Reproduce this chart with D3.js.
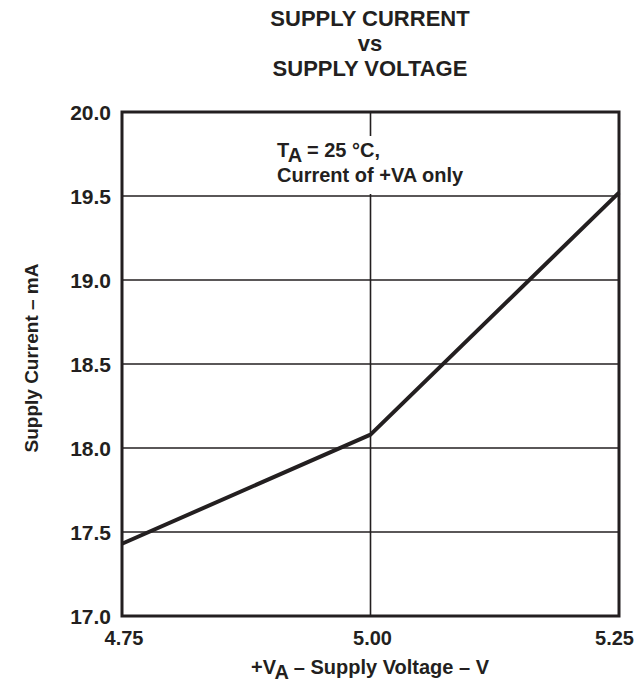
<!DOCTYPE html>
<meta charset="utf-8" />
<script src="https://cdn.jsdelivr.net/npm/d3@7"></script>
<html>
<head>
<style>
  body { margin: 0; background: #fff; }
  text { font-family: "Liberation Sans", Arial, sans-serif; font-weight: bold; fill: #231f20; }
</style>
</head>
<body>
<script>
// supply voltage (V) vs supply current (mA)
const voltage = [4.75, 5.00, 5.25];
const current = [17.43, 18.08, 19.52];
const xTicks = [4.75, 5.00, 5.25];
const yTicks = [17.0, 17.5, 18.0, 18.5, 19.0, 19.5, 20.0];
const titleLines = ["SUPPLY CURRENT", "vs", "SUPPLY VOLTAGE"];

const width = 637, height = 686;
const margin = { left: 122, right: 18, top: 112, bottom: 70 };
const ink = "#231f20";

const svg = d3.select("body").append("svg")
  .attr("width", width).attr("height", height);

const x = d3.scaleLinear().domain([4.75, 5.25]).range([margin.left, width - margin.right]);
const y = d3.scaleLinear().domain([17, 20]).range([height - margin.bottom, margin.top]);

// title
svg.selectAll(".title").data(titleLines).enter().append("text")
  .attr("x", 370).attr("y", (d, i) => 26 + i * 25)
  .attr("text-anchor", "middle").style("font-size", "22px")
  .text(d => d);

// grid
svg.append("g").selectAll("line").data(yTicks.slice(1, -1)).enter().append("line")
  .attr("x1", x(4.75)).attr("x2", x(5.25))
  .attr("y1", d => y(d)).attr("y2", d => y(d))
  .attr("stroke", ink).attr("stroke-width", 1.6);
svg.append("g").selectAll("line").data(xTicks.slice(1, -1)).enter().append("line")
  .attr("y1", y(17)).attr("y2", y(20))
  .attr("x1", d => x(d)).attr("x2", d => x(d))
  .attr("stroke", ink).attr("stroke-width", 1.6);

// frame
svg.append("rect")
  .attr("x", x(4.75)).attr("y", y(20))
  .attr("width", x(5.25) - x(4.75)).attr("height", y(17) - y(20))
  .attr("fill", "none").attr("stroke", ink).attr("stroke-width", 3);

// tick labels
svg.append("g").selectAll("text").data(yTicks).enter().append("text")
  .attr("x", margin.left - 11).attr("y", d => y(d) + 7.5)
  .attr("text-anchor", "end").style("font-size", "21px")
  .text(d => d.toFixed(1));
svg.append("g").selectAll("text").data(xTicks).enter().append("text")
  .attr("x", (d, i) => i === xTicks.length - 1 ? width - 3 : x(d) + 2)
  .attr("y", y(17) + 29)
  .attr("text-anchor", (d, i) => i === xTicks.length - 1 ? "end" : "middle")
  .style("font-size", "20px")
  .text(d => d.toFixed(2));

// data line
const line = d3.line().x((d, i) => x(voltage[i])).y(d => y(d));
svg.append("path").datum(current)
  .attr("d", line).attr("fill", "none")
  .attr("stroke", ink).attr("stroke-width", 4).attr("stroke-linejoin", "round");

// annotation (white box hides the grid behind it)
svg.append("rect").attr("x", 268).attr("y", 136).attr("width", 212).attr("height", 58)
  .attr("fill", "#fff");
const note = svg.append("text").attr("x", 277).attr("y", 157).style("font-size", "20px");
note.append("tspan").text("T");
note.append("tspan").attr("dy", 5).text("A");
note.append("tspan").attr("dy", -5).text(" = 25 \u00B0C,");
svg.append("text").attr("x", 277).attr("y", 182).style("font-size", "20px")
  .text("Current of +VA only");

// axis labels
const xl = svg.append("text").attr("x", 370).attr("y", 674)
  .attr("text-anchor", "middle").style("font-size", "20px");
xl.append("tspan").text("+V");
xl.append("tspan").attr("dy", 5).text("A");
xl.append("tspan").attr("dy", -5).text(" \u2013 Supply Voltage \u2013 V");

svg.append("text")
  .attr("transform", "translate(38,358) rotate(-90)")
  .attr("text-anchor", "middle").style("font-size", "19px")
  .text("Supply Current \u2013 mA");
</script>
</body>
</html>
